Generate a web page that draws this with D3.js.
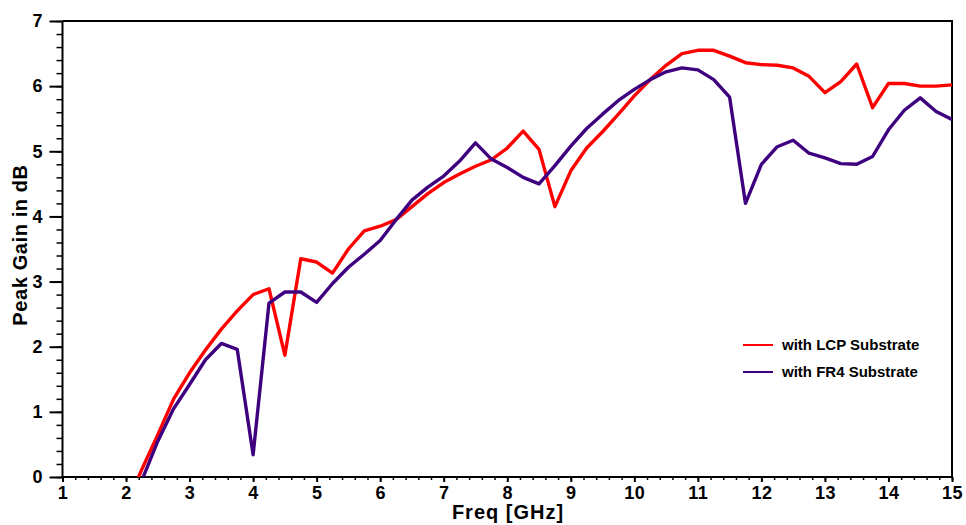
<!DOCTYPE html>
<html>
<head>
<meta charset="utf-8">
<script src="https://cdn.jsdelivr.net/npm/d3@7"></script>
<style>
  body { margin: 0; background: #fff; }
  text { font-family: "Liberation Sans", Arial, sans-serif; font-weight: bold; }
</style>
</head>
<body>
<div id="canvas"></div>
<script>
// frequency grid (GHz); values below 0 dB are cut off by the plot edge
var freq = [2, 2.25, 2.5, 2.75, 3, 3.25, 3.5, 3.75, 4, 4.25, 4.5, 4.75, 5, 5.25, 5.5, 5.75,
    6, 6.25, 6.5, 6.75, 7, 7.25, 7.5, 7.75, 8, 8.25, 8.5, 8.75, 9, 9.25, 9.5, 9.75,
    10, 10.25, 10.5, 10.75, 11, 11.25, 11.5, 11.75, 12, 12.25, 12.5, 12.75, 13, 13.25,
    13.5, 13.75, 14, 14.25, 14.5, 14.75, 15];

var lcpGain = [-0.45, 0.12, 0.65, 1.2, 1.6, 1.95, 2.27, 2.55, 2.8, 2.89, 1.87, 3.35, 3.3, 3.13, 3.5, 3.78,
    3.85, 3.95, 4.15, 4.35, 4.52, 4.65, 4.77, 4.87, 5.05, 5.31, 5.03, 4.15, 4.7, 5.05, 5.3, 5.57,
    5.85, 6.1, 6.32, 6.5, 6.55, 6.55, 6.46, 6.36, 6.33, 6.32, 6.28, 6.15, 5.9, 6.07,
    6.34, 5.67, 6.04, 6.04, 6.0, 6.0, 6.02];

var fr4Gain = [-0.65, -0.05, 0.55, 1.05, 1.42, 1.8, 2.05, 1.96, 0.34, 2.67, 2.84, 2.84, 2.68, 2.97, 3.22, 3.42,
    3.63, 3.95, 4.25, 4.45, 4.62, 4.85, 5.13, 4.88, 4.75, 4.6, 4.5, 4.78, 5.08, 5.35, 5.57, 5.78,
    5.95, 6.1, 6.22, 6.28, 6.25, 6.1, 5.83, 4.2, 4.8, 5.07, 5.17, 4.97, 4.9, 4.81,
    4.8, 4.92, 5.33, 5.63, 5.82, 5.61, 5.49];

var seriesNames = ['with LCP Substrate', 'with FR4 Substrate'];
var seriesColors = ['#ff0000', '#3f0080'];
var xTicks = [1, 2, 3, 4, 5, 6, 7, 8, 9, 10, 11, 12, 13, 14, 15];
var yTicks = [0, 1, 2, 3, 4, 5, 6, 7];

var svgWidth = 966;
var svgHeight = 525;
var plotLeft = 62.5, plotRight = 952, plotTop = 21, plotBottom = 477;

var svg = d3.select('#canvas')
    .append('svg')
    .attr('width', svgWidth)
    .attr('height', svgHeight);

var x = d3.scaleLinear().domain([1, 15]).range([plotLeft, plotRight]);
var y = d3.scaleLinear().domain([0, 7]).range([plotBottom, plotTop]);

svg.append('clipPath').attr('id', 'plotClip')
    .append('rect')
    .attr('x', plotLeft).attr('y', plotTop)
    .attr('width', plotRight - plotLeft).attr('height', plotBottom - plotTop);

// frame (top + right)
svg.append('path')
    .attr('d', 'M' + plotLeft + ',' + plotTop + 'H' + plotRight + 'V' + plotBottom)
    .attr('fill', 'none')
    .attr('stroke', 'black')
    .attr('stroke-width', 2);

// minor ticks
var xMinor = d3.range(1, 15.001, 0.2);
var yMinor = d3.range(0, 7.001, 0.2);

var xAxis = svg.append('g')
    .attr('transform', 'translate(0,' + plotBottom + ')')
    .call(d3.axisBottom(x).tickValues(xMinor).tickSize(3).tickFormat(''));
xAxis.select('.domain').remove();
xAxis.selectAll('line').attr('stroke-width', 1.5);

var xMajor = svg.append('g')
    .attr('transform', 'translate(0,' + plotBottom + ')')
    .call(d3.axisBottom(x).tickValues(xTicks).tickSize(5).tickPadding(4).tickFormat(d3.format('d')));
xMajor.select('.domain').attr('stroke-width', 2).attr('d', 'M' + plotLeft + ',0H' + plotRight);
xMajor.selectAll('line').attr('stroke-width', 2);
xMajor.selectAll('text')
    .attr('font-size', '18px')
    .attr('font-family', '"Liberation Sans", Arial, sans-serif')
    .attr('font-weight', 'bold')
    .attr('letter-spacing', '0.5px')
    .attr('fill', 'black');

var yAxis = svg.append('g')
    .attr('transform', 'translate(' + plotLeft + ',0)')
    .call(d3.axisLeft(y).tickValues(yMinor).tickSize(6).tickFormat(''));
yAxis.select('.domain').remove();
yAxis.selectAll('line').attr('stroke-width', 1.5);

var yMajor = svg.append('g')
    .attr('transform', 'translate(' + plotLeft + ',0)')
    .call(d3.axisLeft(y).tickValues(yTicks).tickSize(13).tickPadding(7).tickFormat(d3.format('d')));
yMajor.select('.domain').attr('stroke-width', 2).attr('d', 'M0,' + plotTop + 'V' + plotBottom);
yMajor.selectAll('line').attr('stroke-width', 2);
yMajor.selectAll('text')
    .attr('font-size', '18px')
    .attr('font-family', '"Liberation Sans", Arial, sans-serif')
    .attr('font-weight', 'bold')
    .attr('fill', 'black');

// axis titles
svg.append('text')
    .attr('x', 508)
    .attr('y', 519)
    .attr('text-anchor', 'middle')
    .attr('font-size', '20px')
    .attr('letter-spacing', '1px')
    .text('Freq [GHz]');

svg.append('text')
    .attr('transform', 'translate(27,245) rotate(-90)')
    .attr('text-anchor', 'middle')
    .attr('font-size', '20px')
    .attr('letter-spacing', '0.6px')
    .text('Peak Gain in dB');

// curves
var line = d3.line()
    .x(function (d) { return x(d[0]); })
    .y(function (d) { return y(d[1]); });

[lcpGain, fr4Gain].forEach(function (vals, i) {
    svg.append('path')
        .datum(freq.map(function (f, j) { return [f, vals[j]]; }))
        .attr('clip-path', 'url(#plotClip)')
        .attr('fill', 'none')
        .attr('stroke', seriesColors[i])
        .attr('stroke-width', 3.4)
        .attr('stroke-linejoin', 'round')
        .attr('d', line);
});

// legend
seriesNames.forEach(function (name, i) {
    var ly = 345 + i * 27;
    svg.append('line')
        .attr('x1', 743).attr('x2', 773)
        .attr('y1', ly).attr('y2', ly)
        .attr('stroke', seriesColors[i])
        .attr('stroke-width', 2);
    svg.append('text')
        .attr('x', 782)
        .attr('y', ly + 5)
        .attr('font-size', '15px')
        .text(name);
});
</script>
</body>
</html>
